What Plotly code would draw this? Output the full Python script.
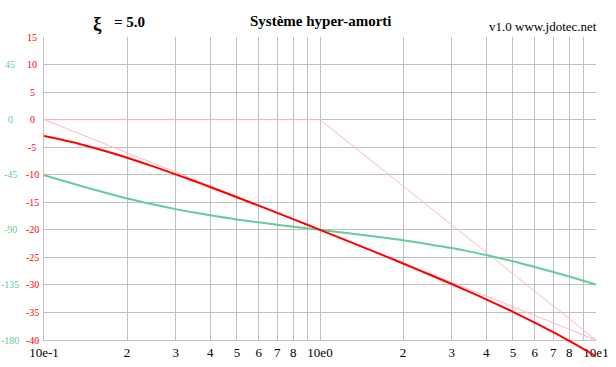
import plotly.graph_objects as go

# ---- data ----
freq = [0.1, 0.125, 0.15, 0.175, 0.2, 0.25, 0.3, 0.35, 0.4, 0.5, 0.6, 0.7, 0.8, 0.9, 1.0,
        1.25, 1.5, 1.75, 2.0, 2.5, 3.0, 3.5, 4.0, 5.0, 6.0, 7.0, 8.0, 9.0, 10.0]
gain_db = [-2.97, -4.03, -5.06, -6.02, -6.92, -8.53, -9.93, -11.15, -12.23, -14.08, -15.61,
           -16.92, -18.07, -19.09, -20.0,
           -21.95, -23.55, -24.92, -26.12, -28.15, -29.84, -31.31, -32.61, -34.88, -36.83,
           -38.58, -40.16, -41.61, -42.97]
# phase in degrees
phase_deg = [-45.3, -51.8, -56.9, -61.0, -64.4, -69.4, -73.1, -75.9, -78.1, -81.5, -83.9,
             -85.8, -87.4, -88.8, -90.0,
             -92.6, -94.8, -96.7, -98.5, -101.9, -104.9, -107.8, -110.6, -115.6, -120.3,
             -124.4, -128.2, -131.6, -134.7]
# asymptotes
asym2_f = [0.1, 1.0, 10.0]
asym2_db = [0, 0, -40]
asym1_f = [0.1, 10.0]
asym1_db = [0, -40]

db_ticks = [15, 10, 5, 0, -5, -10, -15, -20, -25, -30, -35, -40]
phase_ticks = [45, 0, -45, -90, -135, -180]
x_tickvals = [0.1, 0.2, 0.3, 0.4, 0.5, 0.6, 0.7, 0.8, 0.9,
              1, 2, 3, 4, 5, 6, 7, 8, 9, 10]
x_ticktext = ["10e-1", "2", "3", "4", "5", "6", "7", "8", "",
              "10e0", "2", "3", "4", "5", "6", "7", "8", "", "10e1"]

# phase mapped onto dB scale: -180 deg -> -40 dB
scale = 40.0 / 180.0
phase_on_db = [p * scale for p in phase_deg]

RED = "#ff0000"
GREEN = "#66cc99"
PINK = "#ffb6c1"
GRID = "#c0c0c0"
SERIF = "Liberation Serif"

W, H = 616, 367
L, R, T, B = 44, 16, 37, 7
PLOT_BOTTOM = 340
area_h = H - T - B
main_bottom = (H - B - PLOT_BOTTOM) / area_h
px_per_db = (PLOT_BOTTOM - T) / 55.0
ext_low = -40 - (H - B - PLOT_BOTTOM) / px_per_db


def xp(px):
    return (px - L) / (W - L - R)


def yp(py):
    return (H - B - py) / area_h


fig = go.Figure()
fig.add_trace(go.Scatter(x=asym2_f, y=asym2_db, mode="lines",
                         line=dict(color=PINK, width=1), xaxis="x", yaxis="y"))
fig.add_trace(go.Scatter(x=asym1_f, y=asym1_db, mode="lines",
                         line=dict(color=PINK, width=1), xaxis="x", yaxis="y"))
fig.add_trace(go.Scatter(x=freq, y=phase_on_db, mode="lines",
                         line=dict(color=GREEN, width=2, shape="spline"),
                         xaxis="x", yaxis="y"))
fig.add_trace(go.Scatter(x=freq, y=gain_db, mode="lines",
                         line=dict(color=RED, width=2, shape="spline"),
                         xaxis="x2", yaxis="y2"))

annotations = []
for v in db_ticks:
    annotations.append(dict(x=xp(32), y=v, xref="paper", yref="y", text=str(v),
                            showarrow=False, xanchor="center", yanchor="middle",
                            font=dict(family=SERIF, size=10, color=RED)))
for p in phase_ticks:
    annotations.append(dict(x=xp(10), y=p * scale, xref="paper", yref="y", text=str(p),
                            showarrow=False, xanchor="center", yanchor="middle",
                            font=dict(family=SERIF, size=10, color=GREEN)))
annotations += [
    dict(x=xp(98), y=yp(24), xref="paper", yref="paper", text="<b>ξ</b>",
         showarrow=False, xanchor="center", yanchor="middle",
         font=dict(family=SERIF, size=19, color="black")),
    dict(x=xp(112), y=yp(22), xref="paper", yref="paper", text="<b>= 5.0</b>",
         showarrow=False, xanchor="left", yanchor="middle",
         font=dict(family=SERIF, size=15, color="black")),
    dict(x=xp(323), y=yp(21), xref="paper", yref="paper", text="<b>Système hyper-amorti</b>",
         showarrow=False, xanchor="center", yanchor="middle",
         font=dict(family=SERIF, size=15, color="black")),
    dict(x=xp(603), y=yp(26), xref="paper", yref="paper", text="v1.0 www.jdotec.net",
         showarrow=False, xanchor="right", yanchor="middle",
         font=dict(family=SERIF, size=13, color="black")),
]

fig.update_layout(
    width=W, height=H,
    margin=dict(l=L, r=R, t=T, b=B, pad=0),
    paper_bgcolor="white",
    plot_bgcolor="rgba(0,0,0,0)",
    showlegend=False,
    xaxis=dict(type="log", range=[-1, 1], tickmode="array", tickvals=x_tickvals,
               ticktext=x_ticktext, showgrid=True, gridcolor=GRID, gridwidth=1,
               showline=True, linecolor=GRID, linewidth=1, ticks="", zeroline=False,
               tickfont=dict(family=SERIF, size=13, color="black"), anchor="y"),
    yaxis=dict(range=[-40, 15], domain=[main_bottom, 1], tickmode="array",
               tickvals=db_ticks, showticklabels=False, showgrid=True,
               gridcolor=GRID, gridwidth=1, showline=True, linecolor=GRID,
               linewidth=1, zeroline=False, ticks="", anchor="x"),
    xaxis2=dict(type="log", range=[-1, 1], visible=False, anchor="y2", domain=[0, 1]),
    yaxis2=dict(range=[ext_low, 15], domain=[0, 1], visible=False, anchor="x2"),
    annotations=annotations,
)

fig.write_html("out.html", config={"displayModeBar": False},
               post_script="document.body.style.margin='0';document.body.style.overflow='hidden';")
